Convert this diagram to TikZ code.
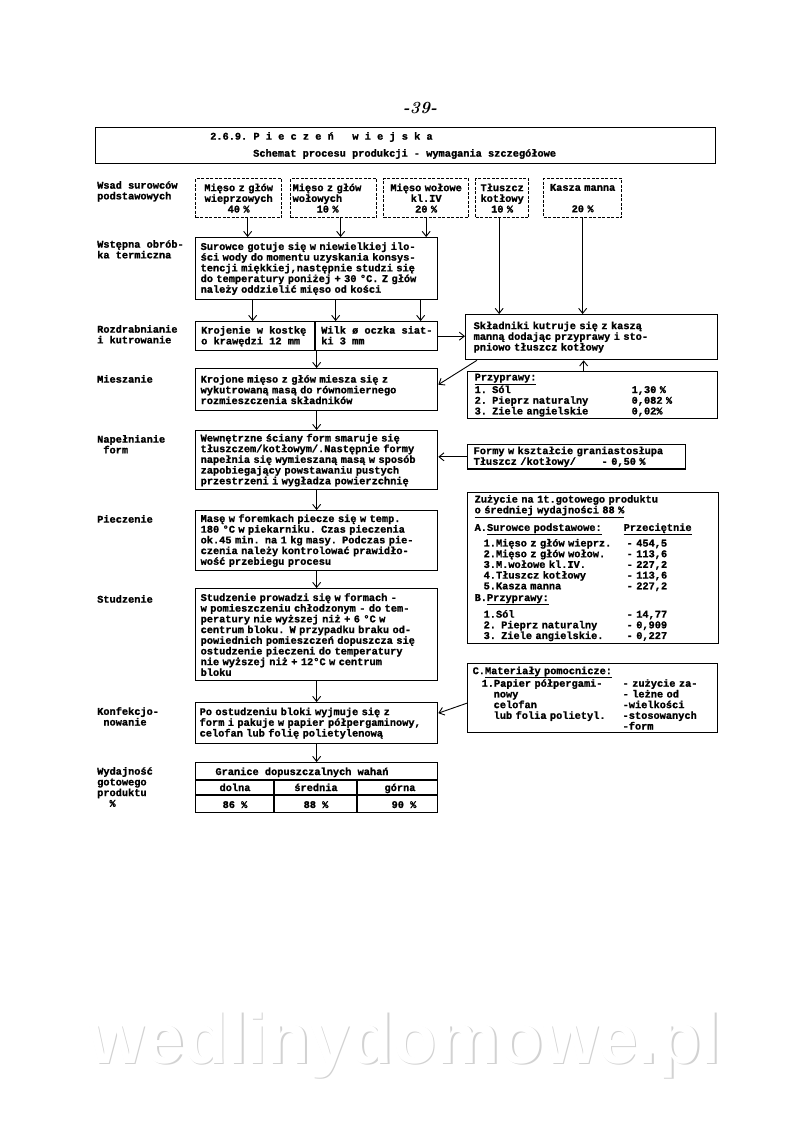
\documentclass[tikz,border=0pt]{standalone}
\usepackage{fontspec}
\setmonofont{Liberation Mono}[BoldFeatures={FakeBold=1.2}]
\setsansfont{Liberation Sans}
\usetikzlibrary{arrows.meta,calc}
\newcommand{\tw}{\ttfamily\bfseries\fontsize{10.3}{10.7}\selectfont}
\begin{document}
\begin{tikzpicture}[x=1pt,y=-1pt,
  box/.style={draw, line width=1.3pt, anchor=north west, align=left, inner xsep=5pt, inner ysep=2pt, font=\tw},
  dbox/.style={box, dash pattern=on 3pt off 1.5pt, align=center, inner xsep=2pt},
  txt/.style={anchor=north west, align=left, inner sep=0pt, font=\tw},
  ctxt/.style={anchor=base, align=center, inner sep=0pt, font=\tw},
  arr/.style={line width=0.9pt, -{Straight Barb[length=5pt,width=8pt]}},
  rule/.style={line width=1.3pt}]

\useasboundingbox (0,0) rectangle (800,1128);
\fill[white] (0,0) rectangle (800,1128);

% page number
\node[font=\bfseries\itshape\fontsize{17}{17}\selectfont] (pg) at (420,108) {-39-};

% header
\node[box, minimum width=620pt, minimum height=36pt, text width=610pt] (head) at (95,127) {};
\node[txt] (t1) at (210,132) {2.6.9. P i e c z e ń \ \ w i e j s k a};
\node[txt] (t2) at (253,149) {Schemat procesu produkcji - wymagania szczegółowe};

% left labels
\node[txt] (l1) at (97,181) {Wsad surowców\\podstawowych};
\node[txt] (l2) at (97,240) {Wstępna obrób-\\ka termiczna};
\node[txt] (l3) at (97,325) {Rozdrabnianie\\i kutrowanie};
\node[txt] (l4) at (97,375) {Mieszanie};
\node[txt] (l5) at (97,435) {Napełnianie\\\ form};
\node[txt] (l6) at (97,515) {Pieczenie};
\node[txt] (l7) at (97,595) {Studzenie};
\node[txt] (l8) at (97,707) {Konfekcjo-\\\ nowanie};
\node[txt] (l9) at (97,767) {Wydajność\\gotowego\\produktu\\\ \ \%};

% raw materials
\node[dbox, minimum width=86pt, minimum height=39pt, text width=82pt] (m1) at (195,178) {Mięso z głów\\wieprzowych\\40 \%};
\node[dbox, minimum width=86pt, minimum height=39pt, text width=82pt, align=left] (m2) at (290,178) {Mięso z głów\\wołowych\\\hspace*{24pt}10 \%};
\node[dbox, minimum width=85pt, minimum height=39pt, text width=81pt] (m3) at (383,178) {Mięso wołowe\\kl.IV\\20 \%};
\node[dbox, minimum width=53pt, minimum height=39pt, text width=49pt] (m4) at (475,178) {Tłuszcz\\kotłowy\\10 \%};
\node[dbox, minimum width=78pt, minimum height=39pt, text width=74pt] (m5) at (543,178) {Kasza manna\\\mbox{}\\20 \%};

% process boxes
\node[box, minimum width=242pt, minimum height=62pt, text width=232pt] (sur) at (195,237) {Surowce gotuje się w niewielkiej ilo-\\ści wody do momentu uzyskania konsys-\\tencji miękkiej,następnie studzi się\\do temperatury poniżej + 30 °C. Z głów\\należy oddzielić mięso od kości};

\node[box, minimum width=242pt, minimum height=29pt, text width=232pt] (kroj) at (195,321) {};
\node[txt] (k1) at (201,326) {Krojenie w kostkę\\o krawędzi 12 mm};
\node[txt] (k2) at (321,326) {Wilk ø oczka siat-\\ki 3 mm};
\draw[rule] ($(kroj.north west)+(120,0)$) -- ($(kroj.south west)+(120,0)$);

\node[box, minimum width=242pt, minimum height=42pt, text width=232pt] (mies) at (195,368) {Krojone mięso z głów miesza się z\\wykutrowaną masą do równomiernego\\rozmieszczenia składników};

\node[box, minimum width=242pt, minimum height=59pt, text width=232pt] (nap) at (195,430) {Wewnętrzne ściany form smaruje się\\tłuszczem/kotłowym/.Następnie formy\\napełnia się wymieszaną masą w sposób\\zapobiegający powstawaniu pustych\\przestrzeni i wygładza powierzchnię};

\node[box, minimum width=242pt, minimum height=60pt, text width=232pt] (piec) at (195,510) {Masę w foremkach piecze się w temp.\\180 °C w piekarniku. Czas pieczenia\\ok.45 min. na 1 kg masy. Podczas pie-\\czenia należy kontrolować prawidło-\\wość przebiegu procesu};

\node[box, minimum width=242pt, minimum height=92pt, text width=232pt] (stud) at (195,588) {Studzenie prowadzi się w formach -\\w pomieszczeniu chłodzonym - do tem-\\peratury nie wyższej niż + 6 °C w\\centrum bloku. W przypadku braku od-\\powiednich pomieszczeń dopuszcza się\\ostudzenie pieczeni do temperatury\\nie wyższej niż + 12°C w centrum\\bloku};

\node[box, minimum width=242pt, minimum height=41pt, text width=234pt, inner xsep=4pt] (konf) at (195,702) {Po ostudzeniu bloki wyjmuje się z\\form i pakuje w papier półpergaminowy,\\celofan lub folię polietylenową};

% yield table
\node[box, minimum width=242pt, minimum height=50pt, text width=232pt] (wyd) at (195,762) {};
\draw[rule] ($(wyd.north west)+(0,18)$) -- ($(wyd.north east)+(0,18)$);
\draw[rule] ($(wyd.north west)+(0,33)$) -- ($(wyd.north east)+(0,33)$);
\draw[rule] ($(wyd.north west)+(79,18)$) -- ($(wyd.south west)+(79,0)$);
\draw[rule] ($(wyd.north west)+(162,18)$) -- ($(wyd.south west)+(162,0)$);
\node[ctxt] (w0) at (302,775) {Granice dopuszczalnych wahań};
\node[ctxt] (w1) at (235,791) {dolna};
\node[ctxt] (w2) at (316,791) {średnia};
\node[ctxt] (w3) at (400,791) {górna};
\node[ctxt] (w4) at (235,808) {86 \%};
\node[ctxt] (w5) at (316,808) {88 \%};
\node[ctxt] (w6) at (404,808) {90 \%};

% right column
\node[box, minimum width=252pt, minimum height=45pt, text width=236pt, inner xsep=8pt] (skl) at (465,314) {Składniki kutruje się z kaszą\\manną dodając przyprawy i sto-\\pniowo tłuszcz kotłowy};

\node[box, minimum width=250pt, minimum height=45pt, text width=236pt, inner xsep=7pt] (prz) at (467,371) {\underline{Przyprawy:}\\\makebox[157pt][l]{1. Sól}1,30 \%\\\makebox[157pt][l]{2. Pieprz naturalny}0,082 \%\\\makebox[157pt][l]{3. Ziele angielskie}0,02\%};

\node[box, minimum width=218pt, minimum height=24pt, text width=206pt, inner xsep=6pt] (formy) at (467,444) {Formy w kształcie graniastosłupa\\\makebox[128pt][l]{Tłuszcz /kotłowy/}- 0,50 \%};

\node[box, minimum width=251pt, minimum height=151pt, text width=237pt, inner xsep=7pt] (zuz) at (467,492) {Zużycie na 1t.gotowego produktu\\
\underline{o średniej wydajności 88 \%}\\[5pt]
\makebox[149pt][l]{A.\underline{Surowce podstawowe:}}\underline{Przeciętnie}\\[3pt]
\hspace*{9pt}\makebox[143pt][l]{1.Mięso z głów wieprz.}- 454,5\\
\hspace*{9pt}\makebox[143pt][l]{2.Mięso z głów wołow.}- 113,6\\
\hspace*{9pt}\makebox[143pt][l]{3.M.wołowe kl.IV.}- 227,2\\
\hspace*{9pt}\makebox[143pt][l]{4.Tłuszcz kotłowy}- 113,6\\
\hspace*{9pt}\makebox[143pt][l]{5.Kasza manna}- 227,2\\[1pt]
B.\underline{Przyprawy:}\\[4pt]
\hspace*{9pt}\makebox[143pt][l]{1.Sól}- 14,77\\
\hspace*{9pt}\makebox[143pt][l]{2. Pieprz naturalny}- 0,909\\
\hspace*{9pt}\makebox[143pt][l]{3. Ziele angielskie.}- 0,227};

\node[box, minimum width=250pt, minimum height=69pt, text width=240pt] (mat) at (467,663) {C.\underline{Materiały pomocnicze:}\\
\hspace*{9pt}\makebox[141pt][l]{1.Papier półpergami-}- zużycie za-\\
\hspace*{21pt}\makebox[129pt][l]{nowy}- leżne od\\
\hspace*{21pt}\makebox[129pt][l]{celofan}-wielkości\\
\hspace*{21pt}\makebox[129pt][l]{lub folia polietyl.}-stosowanych\\
\hspace*{150pt}-form};

% connectors
\draw[arr] ([xshift=9pt]m1.south) -- ([xshift=9pt]m1.south |- sur.north);
\draw[arr] ([xshift=7pt]m2.south) -- ([xshift=7pt]m2.south |- sur.north);
\draw[arr] (m3.south) -- (m3.south |- sur.north);
\draw[arr] ([xshift=-3pt]m4.south) -- ([xshift=-3pt]m4.south |- skl.north);
\draw[arr] (m5.south) -- (m5.south |- skl.north);

\draw[arr] ([xshift=-64pt]sur.south) -- ([xshift=-64pt]sur.south |- kroj.north);
\draw[arr] ([xshift=19pt]sur.south) -- ([xshift=19pt]sur.south |- kroj.north);
\draw[arr] ([xshift=104pt]sur.south) -- ([xshift=104pt]sur.south |- kroj.north);

\draw[arr] (kroj.east) -- (kroj.east -| skl.west);
\draw[arr] ($(skl.south west)+(12,0)$) -- ($(mies.east)+(0,-5)$);
\draw[arr] ([xshift=-9pt]prz.north) -- ([xshift=-9pt]prz.north |- skl.south);

\draw[arr] (kroj.south) -- (mies.north);
\draw[arr] (mies.south) -- (nap.north);
\draw[arr] (formy.west) -- (formy.west -| nap.east);
\draw[arr] (nap.south) -- (piec.north);
\draw[arr] (piec.south) -- (stud.north);
\draw[arr] (stud.south) -- (konf.north);
\draw[arr] ($(mat.west)+(0,5)$) -- ($(konf.east)+(0,-10)$);
\draw[arr] (konf.south) -- (wyd.north);

% watermark
\node[font=\sffamily\bfseries\fontsize{71}{71}\selectfont, text=gray!35] (wms) at (406.5,1046.5) {wedlinydomowe.pl};
\node[font=\sffamily\bfseries\fontsize{71}{71}\selectfont, text=white] (wm) at (405,1045) {wedlinydomowe.pl};
\end{tikzpicture}
\end{document}
